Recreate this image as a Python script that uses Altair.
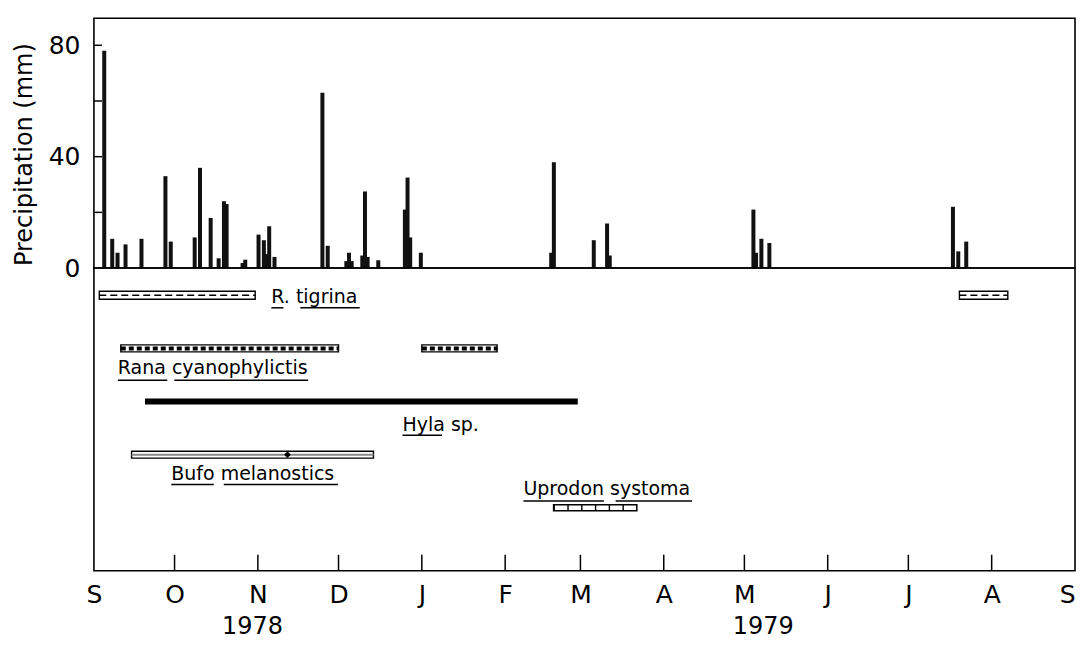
import altair as alt
import pandas as pd

# ---------------- data ----------------
precip_dates = [
    "1978-09-03", "1978-09-06", "1978-09-08", "1978-09-11", "1978-09-17",
    "1978-09-26", "1978-09-28", "1978-10-07", "1978-10-09", "1978-10-13",
    "1978-10-16", "1978-10-18", "1978-10-19", "1978-10-25", "1978-10-26",
    "1978-10-31", "1978-11-02", "1978-11-03", "1978-11-04", "1978-11-06",
    "1978-11-24", "1978-11-26", "1978-12-03", "1978-12-04", "1978-12-05",
    "1978-12-09", "1978-12-10", "1978-12-11", "1978-12-15", "1978-12-25",
    "1978-12-26", "1978-12-27", "1978-12-31", "1979-02-18", "1979-02-19",
    "1979-03-06", "1979-03-11", "1979-03-12", "1979-05-05", "1979-05-06",
    "1979-05-08", "1979-05-11", "1979-07-19", "1979-07-21", "1979-07-24",
]
precip_mm = [
    78, 10.5, 5.5, 8.5, 10.5,
    33, 9.5, 11, 36, 18,
    3.5, 24, 23, 1.8, 3,
    12, 10, 5, 15, 4,
    63, 8, 2.5, 5.5, 2.5,
    4.5, 27.5, 4, 2.8, 21,
    32.5, 11, 5.5, 5.5, 38,
    10, 16, 4.5, 21, 5.5,
    10.5, 9, 22, 6, 9.5,
]

month_letters = ["S", "O", "N", "D", "J", "F", "M", "A", "M", "J", "J", "A", "S"]
month_starts = [
    "1978-09-01", "1978-10-01", "1978-11-01", "1978-12-01", "1979-01-01",
    "1979-02-01", "1979-03-01", "1979-04-01", "1979-05-01", "1979-06-01",
    "1979-07-01", "1979-08-01", "1979-09-01",
]
year_labels = ["1978", "1979"]
year_centres = ["1978-10-30", "1979-05-08"]

species_names = ["R. tigrina", "Rana cyanophylictis", "Hyla sp.",
                 "Bufo melanostics", "Uprodon systoma"]
period_species = ["R. tigrina", "R. tigrina", "Rana cyanophylictis",
                  "Rana cyanophylictis", "Hyla sp.", "Bufo melanostics",
                  "Uprodon systoma"]
period_start = ["1978-09-03", "1979-07-20", "1978-09-11", "1979-01-01",
                "1978-09-20", "1978-09-15", "1979-02-19"]
period_end = ["1978-10-31", "1979-08-07", "1978-12-01", "1979-01-29",
              "1979-02-28", "1978-12-14", "1979-03-22"]
bufo_mark_date = ["1978-11-12"]

# ---------------- helpers / layout ----------------
origin = pd.Timestamp("1978-09-01")


def day(d):
    return (pd.Timestamp(d) - origin).days


row_of = {s: i + 1 for i, s in enumerate(species_names)}
ROW_PX = 55.0

# label layout: (start day, baseline offset px from bar row)
label_layout = {
    "R. tigrina": (66.0, 8),
    "Rana cyanophylictis": (8.9, 26),
    "Hyla sp.": (114.8, 30),
    "Bufo melanostics": (28.8, 26),
    "Uprodon systoma": (159.8, -13),
}
# underline layout: (species, start day, end day, offset px)
underline_layout = [
    ("R. tigrina", 66.0, 70.5, 13), ("R. tigrina", 76.8, 98.9, 13),
    ("Rana cyanophylictis", 8.9, 27.3, 33), ("Rana cyanophylictis", 29.9, 79.7, 33),
    ("Hyla sp.", 114.8, 129.5, 35),
    ("Bufo melanostics", 28.8, 44.6, 31), ("Bufo melanostics", 48.3, 90.8, 31),
    ("Uprodon systoma", 159.8, 189.7, -7), ("Uprodon systoma", 194.1, 222.5, -7),
]

FONT = "DejaVu Sans"
W = 982
H_TOP = 250
H_BOT = 303

precip_df = pd.DataFrame({"day": [day(d) for d in precip_dates], "mm": precip_mm})
ytick_df = pd.DataFrame({"mm": [20, 40, 60, 80]})

period_df = pd.DataFrame({
    "species": period_species,
    "start": [day(d) for d in period_start],
    "end": [day(d) for d in period_end],
})
period_df["level"] = period_df["species"].map(row_of)

label_df = pd.DataFrame({
    "label": species_names,
    "start": [label_layout[s][0] for s in species_names],
    "level": [row_of[s] + label_layout[s][1] / ROW_PX for s in species_names],
})
ul_df = pd.DataFrame({
    "start": [u[1] for u in underline_layout],
    "end": [u[2] for u in underline_layout],
    "level": [row_of[u[0]] + u[3] / ROW_PX for u in underline_layout],
})
month_days = [day(d) for d in month_starts]
mtick_df = pd.DataFrame({"start": month_days[1:-1]})
year_df = pd.DataFrame({"label": year_labels, "start": [day(d) for d in year_centres]})
bufo_df = pd.DataFrame({"start": [day(d) for d in bufo_mark_date],
                        "level": [row_of["Bufo melanostics"]]})

xscale = alt.Scale(domain=[0, 365], nice=False, zero=False)

# ---------------- top: precipitation ----------------
yaxis = alt.Axis(values=[0, 40, 80], ticks=False, domain=False, grid=False,
                 labelFontSize=25, labelFont=FONT, labelPadding=14, labelColor="black",
                 title="Precipitation (mm)", titleFontSize=24, titleFont=FONT,
                 titleFontWeight="normal", titlePadding=12, titleColor="black",
                 titleY=136)
yscale = alt.Scale(domain=[0, 89.7], nice=False, zero=True)

bars = alt.Chart(precip_df).mark_bar(size=4, color="#111111").encode(
    x=alt.X("day:Q", scale=xscale, axis=None),
    y=alt.Y("mm:Q", scale=yscale, axis=yaxis),
)
yticks = alt.Chart(ytick_df).mark_rule(color="black", strokeWidth=1.5).encode(
    y=alt.Y("mm:Q", scale=yscale, axis=yaxis),
    x=alt.value(0), x2=alt.value(8),
)
top = alt.layer(bars, yticks).properties(width=W, height=H_TOP)

# ---------------- bottom: breeding periods ----------------
label_expr = ("[" + ",".join(f"'{m}'" for m in month_letters) + "][indexof(["
              + ",".join(str(d) for d in month_days) + "], datum.value)]")
xaxis = alt.Axis(values=month_days, labelExpr=label_expr, ticks=False, domain=False,
                 grid=False, labelFontSize=25, labelFont=FONT, labelPadding=12,
                 labelColor="black", title=None, labelOverlap=False, labelFlush=False,
                 labelAlign={"condition": {"test": f"datum.value >= {month_days[-1]}",
                                           "value": "right"}, "value": "center"})
ylev = alt.Scale(domain=[1 - 23 / ROW_PX, 1 - 23 / ROW_PX + H_BOT / ROW_PX],
                 reverse=True, nice=False, zero=False)


def X(field="start"):
    return alt.X(f"{field}:Q", scale=xscale, axis=xaxis)


def Y():
    return alt.Y("level:Q", scale=ylev, axis=None)


def sp(name):
    return alt.Chart(period_df).transform_filter(alt.datum.species == name)


tig_box = sp("R. tigrina").mark_bar(orient="horizontal", size=8, fill="white",
                                    stroke="black", strokeWidth=1.4).encode(
    x=X(), x2="end:Q", y=Y())
tig_in = sp("R. tigrina").mark_rule(color="black", strokeWidth=1.4,
                                    strokeDash=[7, 4]).encode(x=X(), x2="end:Q", y=Y())

rana_box = sp("Rana cyanophylictis").mark_bar(orient="horizontal", size=7, fill="white",
                                             stroke="black", strokeWidth=1.4).encode(
    x=X(), x2="end:Q", y=Y())
rana_in = sp("Rana cyanophylictis").mark_rule(color="black", strokeWidth=4,
                                             strokeDash=[5, 3]).encode(x=X(), x2="end:Q", y=Y())

hyla = sp("Hyla sp.").mark_bar(orient="horizontal", size=6, color="black").encode(
    x=X(), x2="end:Q", y=Y())

bufo_box = sp("Bufo melanostics").mark_bar(orient="horizontal", size=7, fill="white",
                                           stroke="black", strokeWidth=1.4).encode(
    x=X(), x2="end:Q", y=Y())
bufo_in = sp("Bufo melanostics").mark_rule(color="#8a8a8a", strokeWidth=2).encode(
    x=X(), x2="end:Q", y=Y())
bufo_mark = alt.Chart(bufo_df).mark_point(shape="diamond", filled=True, size=45,
                                          color="black", opacity=1).encode(x=X(), y=Y())

upro_box = sp("Uprodon systoma").mark_bar(orient="horizontal", size=6, fill="white",
                                          stroke="black", strokeWidth=1.4).encode(
    x=X(), x2="end:Q", y=Y())
upro_in = sp("Uprodon systoma").mark_rule(color="black", strokeWidth=6,
                                          strokeDash=[1.4, 12.4]).encode(x=X(), x2="end:Q", y=Y())

labels = alt.Chart(label_df).mark_text(align="left", baseline="alphabetic", fontSize=19,
                                       font=FONT, color="black").encode(
    x=X(), y=Y(), text="label:N")
underlines = alt.Chart(ul_df).mark_rule(color="black", strokeWidth=1.5).encode(
    x=X(), x2="end:Q", y=Y())

mticks = alt.Chart(mtick_df).mark_rule(color="black", strokeWidth=1.5).encode(
    x=X(), y=alt.value(H_BOT), y2=alt.value(H_BOT - 16))

years = alt.Chart(year_df).mark_text(align="center", baseline="alphabetic", fontSize=24,
                                     font=FONT, color="black").encode(
    x=X(), y=alt.value(H_BOT + 63), text="label:N")

bottom = alt.layer(
    tig_box, tig_in, rana_box, rana_in, hyla, bufo_box, bufo_in, bufo_mark,
    upro_box, upro_in, labels, underlines, mticks, years,
).properties(width=W, height=H_BOT)

chart = alt.vconcat(top, bottom, spacing=0, bounds="flush").properties(
    padding={"left": 3, "top": 9, "right": 0, "bottom": 0},
    background="white",
).configure_view(stroke="black", strokeWidth=1.6)

chart.save("out.html", embed_options={"renderer": "svg", "actions": False})
